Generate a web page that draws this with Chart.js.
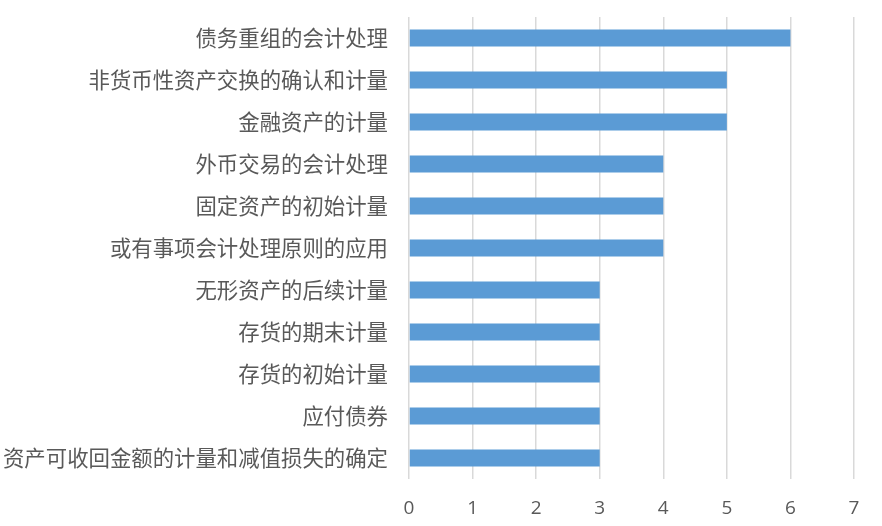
<!DOCTYPE html>
<html>
<head>
<meta charset="utf-8">
<script src="https://cdn.jsdelivr.net/npm/chart.js@4"></script>
<style>
  html, body { margin: 0; padding: 0; background: #fff; }
  #wrap { width: 882px; height: 526px; }
</style>
</head>
<body>
<div id="wrap"><canvas id="topicChart"></canvas></div>
<script>
const categories = [
    "债务重组的会计处理",
    "非货币性资产交换的确认和计量",
    "金融资产的计量",
    "外币交易的会计处理",
    "固定资产的初始计量",
    "或有事项会计处理原则的应用",
    "无形资产的后续计量",
    "存货的期末计量",
    "存货的初始计量",
    "应付债券",
    "资产可收回金额的计量和减值损失的确定"
];
const counts = [6, 5, 5, 4, 4, 4, 3, 3, 3, 3, 3];
const axisMin = 0;
const axisMax = 7;

const ctx = document.getElementById("topicChart").getContext("2d");

new Chart(ctx, {
    type: "bar",
    data: {
        labels: categories,
        datasets: [{
            data: counts,
            backgroundColor: "#5b9bd5",
            borderWidth: 0,
            categoryPercentage: 1,
            barPercentage: 0.4
        }]
    },
    options: {
        indexAxis: "y",
        responsive: true,
        maintainAspectRatio: false,
        animation: false,
        layout: {
            padding: { top: 17, right: 28, left: 0, bottom: 0 }
        },
        plugins: {
            legend: { display: false },
            tooltip: { enabled: false }
        },
        scales: {
            x: {
                min: axisMin,
                max: axisMax,
                border: { display: false },
                grid: { color: "#d9d9d9", lineWidth: 1.5, drawTicks: false },
                ticks: {
                    stepSize: 1,
                    padding: 18,
                    color: "#595959",
                    font: { family: "'Open Sans', 'Liberation Sans', sans-serif", size: 19 }
                },
                afterFit: (scale) => { scale.height = 47; }
            },
            y: {
                border: { display: false },
                grid: { display: false, drawTicks: false },
                ticks: {
                    padding: 21,
                    color: "#595959",
                    autoSkip: false,
                    font: { family: "'Noto Sans CJK SC', sans-serif", size: 21.4 }
                },
                afterFit: (scale) => {
                    scale.width = 409;
                    scale.paddingTop = 0;
                    scale.paddingBottom = 0;
                }
            }
        }
    }
});
</script>
</body>
</html>
